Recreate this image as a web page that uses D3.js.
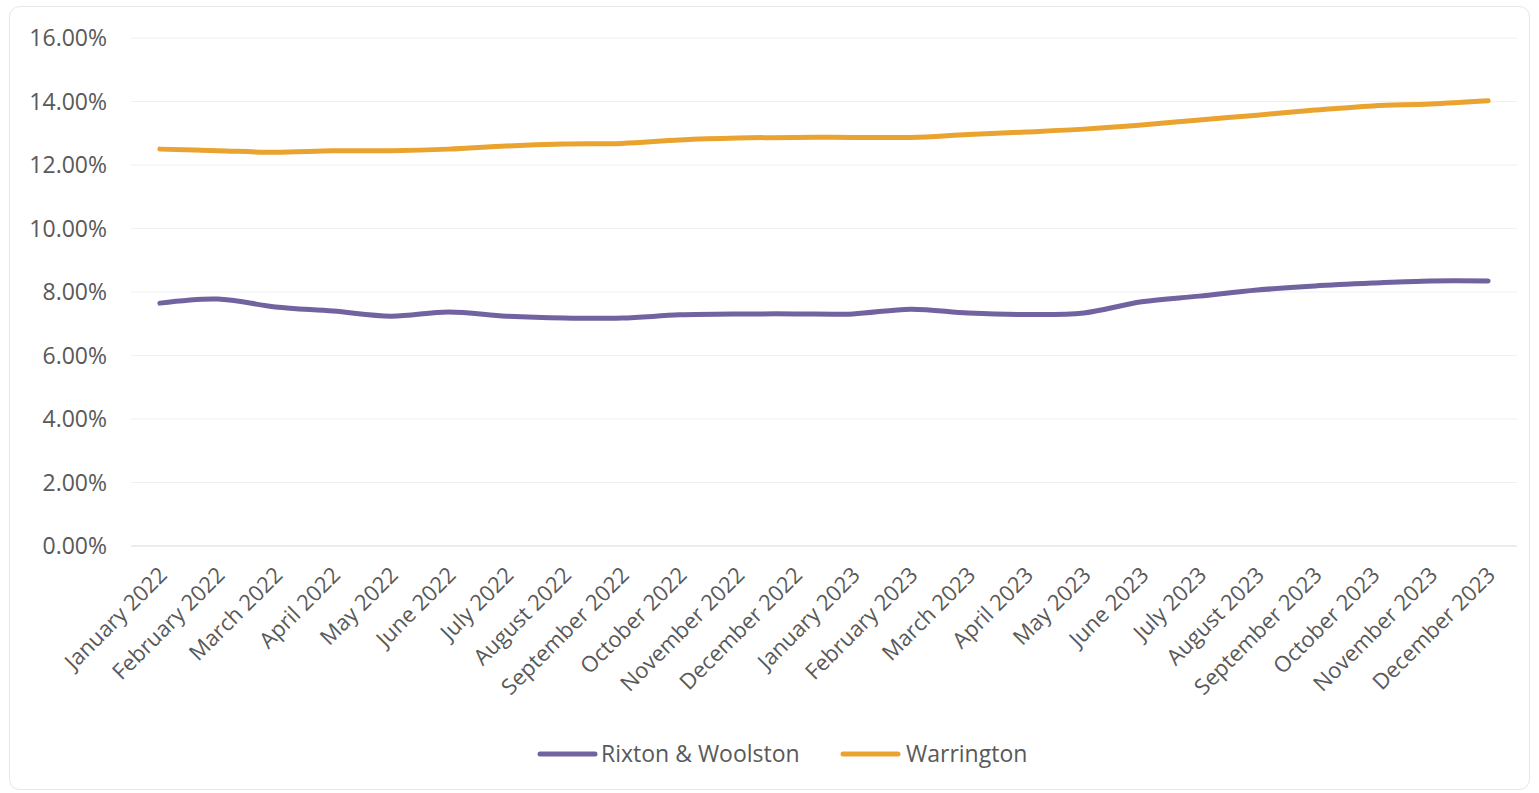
<!DOCTYPE html>
<html><head><meta charset="utf-8">
<script src="https://cdn.jsdelivr.net/npm/d3@7"></script>
<style>
html,body{margin:0;padding:0;background:#fff;}
svg{display:block;font-family:"Open Sans","Liberation Sans",sans-serif;}
</style></head>
<body>
<svg id="c" width="1539" height="793"></svg>
<script>
const months = ["January 2022","February 2022","March 2022","April 2022","May 2022","June 2022","July 2022","August 2022","September 2022","October 2022","November 2022","December 2022","January 2023","February 2023","March 2023","April 2023","May 2023","June 2023","July 2023","August 2023","September 2023","October 2023","November 2023","December 2023"];
const rixton = [7.65,7.78,7.53,7.40,7.24,7.37,7.24,7.18,7.18,7.28,7.31,7.31,7.31,7.46,7.34,7.29,7.34,7.69,7.87,8.06,8.19,8.28,8.35,8.35];
const warrington = [12.50,12.45,12.40,12.45,12.45,12.50,12.60,12.66,12.68,12.79,12.85,12.87,12.87,12.87,12.96,13.04,13.13,13.26,13.42,13.57,13.73,13.86,13.92,14.02];
const yTicks = [0,2,4,6,8,10,12,14,16];
const seriesNames = ["Rixton & Woolston","Warrington"];
const colors = ["#7162a0","#e9a32e"];

const svg = d3.select("#c");
svg.append("rect").attr("x",9.5).attr("y",6.5).attr("width",1520).attr("height",783)
  .attr("rx",10).attr("fill","#fff").attr("stroke","#e6e6e6");

const x = d3.scalePoint().domain(months).range([131,1517]).padding(0.5);
const y = d3.scaleLinear().domain([0,16]).range([546,38]);

const grid = svg.append("g");
grid.selectAll("line").data(yTicks).join("line")
  .attr("x1",131).attr("x2",1517)
  .attr("y1",d=>y(d)).attr("y2",d=>y(d))
  .attr("stroke",d=>d===0?"#d9d9d9":"#efefef").attr("stroke-width",1);

svg.append("g").selectAll("text").data(yTicks).join("text")
  .attr("x",107).attr("y",d=>y(d)).attr("dy","0.35em")
  .attr("text-anchor","end").attr("font-size",23).attr("fill","#595959")
  .text(d=>d.toFixed(2)+"%");

svg.append("g").selectAll("text").data(months).join("text")
  .attr("transform",d=>`translate(${x(d)+3},${571}) rotate(-45)`)
  .attr("text-anchor","end").attr("font-size",22).attr("fill","#595959")
  .attr("dy","0.35em")
  .text(d=>d);

const line = d3.line().x((d,i)=>x(months[i])).y(d=>y(d)).curve(d3.curveCatmullRom.alpha(0.5));
[rixton,warrington].forEach((s,k)=>{
  svg.append("path").attr("d",line(s)).attr("fill","none")
    .attr("stroke",colors[k]).attr("stroke-width",5).attr("stroke-linecap","round").attr("stroke-linejoin","round");
});

const leg = [{x:540,tx:601},{x:843,tx:906}];
seriesNames.forEach((n,k)=>{
  svg.append("line").attr("x1",leg[k].x).attr("x2",leg[k].x+55).attr("y1",754).attr("y2",754)
    .attr("stroke",colors[k]).attr("stroke-width",5).attr("stroke-linecap","round");
  svg.append("text").attr("x",leg[k].tx).attr("y",754).attr("dy","0.35em")
    .attr("font-size",23).attr("fill","#595959").text(n);
});
</script>
</body></html>
